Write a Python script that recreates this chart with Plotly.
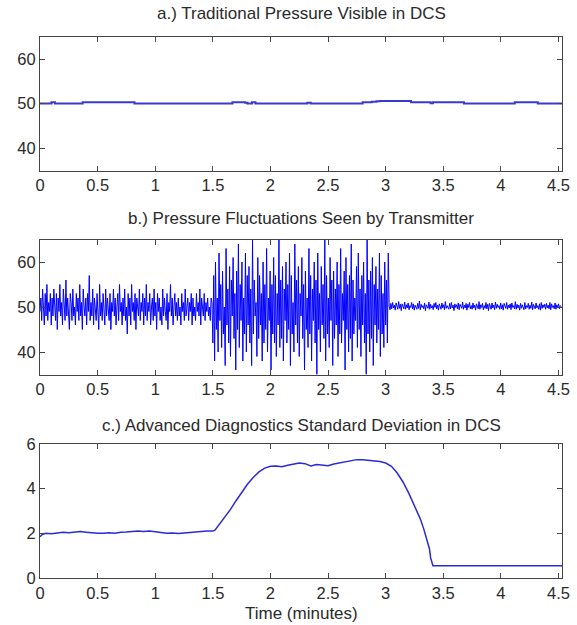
import numpy as np
import plotly.graph_objects as go

# ---------- data ----------
# a.) traditional pressure (DCS)
a_time = [0, 0.08, 0.1, 0.13, 0.35, 0.37, 0.8, 0.82, 1.65, 1.67, 1.78, 1.8, 1.84, 1.87, 1.9,
          2.3, 2.32, 2.35, 2.77, 2.8, 2.88, 2.92, 2.95, 3.2, 3.22, 3.37, 3.39, 3.41, 3.65, 3.68,
          4.1, 4.12, 4.3, 4.32, 4.53]
a_pressure = [50.0, 50.0, 50.3, 50.0, 50.0, 50.3, 50.3, 50.0, 50.0, 50.3, 50.2, 50.0, 50.3, 50.0, 50.0,
              50.0, 50.2, 50.0, 50.0, 50.3, 50.4, 50.5, 50.6, 50.6, 50.3, 50.3, 50.1, 50.3, 50.3, 50.0,
              50.0, 50.3, 50.3, 50.0, 50.0]

# b.) transmitter fluctuations, three segments
b_seg_bounds = [(0.0, 1.5), (1.5, 3.03), (3.03, 4.53)]
b_seg1 = [49,52,47,54,50,46,53,48,55,47,51,49,53,46,52,48,54,50,47,53,
          45,52,49,55,48,51,46,54,50,47,56,48,52,49,45,53,51,47,54,48,
          50,46,53,49,52,47,55,48,51,45,54,50,48,52,46,53,49,57,47,51,
          48,54,46,52,50,47,53,49,45,55,48,51,47,53,50,46,54,48,52,49,
          47,53,45,51,49,54,48,52,46,50,53,47,55,49,51,46,52,48,54,47,
          50,44,53,48,52,46,55,49,51,47,53,45,52,50,48,54,47,51,49,53,
          46,52,48,55,47,51,49,53,46,50,52,47,54,48,51,45,53,49,52,47,
          50,46,54,48,52,49,47,53,45,51,49,55,48,52,46,50,53,48,51,47,
          52,48,50,46,53,49,51,47,54,48,50,52,47,51,49,53,46,52,48,50,
          47,53,49,51,48,54,46,52,50,48,53,47,51,49,52,48,50,47,52,51]
b_seg2 = [42,57,38,60,45,52,40,62,47,55,41,58,44,50,37,63,46,54,42,59,
          39,56,48,61,43,53,36,58,45,64,41,55,47,60,38,52,44,62,40,57,
          46,59,42,54,37,65,44,56,48,51,39,61,43,57,46,53,38,60,42,55,
          45,63,40,52,47,58,36,55,44,61,42,57,39,53,46,65,41,56,43,59,
          38,54,47,60,42,55,45,62,37,57,44,51,40,64,46,56,42,59,39,53,
          48,61,43,55,36,58,45,52,41,63,44,57,38,54,47,60,42,56,35,62,
          45,53,40,59,46,55,43,65,38,57,44,52,41,61,47,56,37,58,43,54,
          46,60,39,55,44,63,42,53,47,58,36,61,45,55,40,57,43,64,38,56,
          44,52,47,59,41,62,45,54,39,57,46,60,42,53,35,65,44,56,40,58,
          43,61,37,55,46,59,42,54,45,62,39,57,44,53,41,60,46,56,42,62]
b_seg3 = [50.2,49.4,50.8,49.6,51.0,49.8,50.4,49.3,50.9,50.1,49.5,51.2,49.7,50.6,49.2,50.7,50.0,49.6,51.1,49.5,
          50.5,49.8,50.9,49.4,50.3,49.9,51.0,49.6,50.7,49.3,50.4,50.0,49.5,50.8,49.7,51.3,49.4,50.6,49.9,50.3,
          49.6,50.9,49.2,50.5,50.0,49.7,51.1,49.5,50.6,49.8,50.3,49.4,50.8,49.9,51.0,49.6,50.4,49.3,50.7,50.1,
          49.5,50.9,49.8,50.5,49.4,51.2,49.7,50.3,50.0,49.5,50.8,49.6,51.0,49.8,50.4,49.2,50.7,49.9,50.5,49.6,
          50.9,49.4,50.6,50.0,49.7,51.1,49.5,50.4,49.8,50.8,49.3,50.6,49.9,51.0,49.6,50.3,49.5,50.9,49.8,50.4,
          49.3,50.7,50.1,49.6,51.2,49.5,50.5,49.9,50.8,49.4,50.3,49.7,51.0,49.6,50.6,49.2,50.8,50.0,49.5,50.9,
          49.8,50.4,49.4,51.1,49.7,50.6,49.9,50.3,49.5,50.9,49.6,50.5,49.3,50.8,50.0,49.7,51.0,49.5,50.4,49.8,
          50.7,49.4,50.9,49.9,50.3,49.6,51.2,49.5,50.6,49.8,50.4,49.3,50.8,49.7,50.5,50.0,49.4,51.0,49.6,50.3,
          49.9,50.8,49.5,50.4,49.7,51.1,49.4,50.6,50.0,49.6,50.9,49.8,50.3,49.5,50.7,49.3,51.0,49.7,50.5,49.9,
          50.6,49.5,50.8,49.8,50.4,49.6,51.0,49.4,50.7,49.9,50.3,49.6,50.9,49.5,50.5,49.8,50.7,49.6,50.3,50.1]

# c.) advanced diagnostics standard deviation
c_time = [0, 0.02, 0.05, 0.1, 0.15, 0.2, 0.25, 0.3, 0.35, 0.4, 0.45, 0.5, 0.55, 0.6, 0.65, 0.7,
          0.75, 0.8, 0.85, 0.9, 0.95, 1.0, 1.05, 1.1, 1.15, 1.2, 1.25, 1.3, 1.35, 1.4, 1.45, 1.48,
          1.5, 1.52, 1.55, 1.6, 1.65, 1.7, 1.75, 1.8, 1.85, 1.9, 1.95, 2.0, 2.05, 2.1, 2.15, 2.2,
          2.25, 2.3, 2.35, 2.4, 2.45, 2.5, 2.55, 2.6, 2.65, 2.7, 2.75, 2.8, 2.85, 2.9, 2.95, 3.0,
          3.05, 3.1, 3.15, 3.2, 3.25, 3.3, 3.33, 3.36, 3.38, 3.39, 3.41, 3.5, 4.53]
c_std = [1.85, 1.95, 2.0, 1.98, 2.02, 2.05, 2.03, 2.06, 2.08, 2.05, 2.02, 2.0, 2.0, 2.03, 2.0, 2.05,
         2.06, 2.08, 2.1, 2.08, 2.1, 2.07, 2.04, 2.0, 2.02, 1.99, 2.02, 2.05, 2.06, 2.08, 2.1, 2.12,
         2.1, 2.15, 2.35, 2.7, 3.05, 3.45, 3.85, 4.2, 4.5, 4.75, 4.92, 5.0, 5.02, 4.98, 5.05, 5.1,
         5.15, 5.12, 5.02, 5.08, 5.05, 5.03, 5.1, 5.15, 5.2, 5.28, 5.3, 5.3, 5.28, 5.25, 5.22, 5.15,
         5.0, 4.7, 4.3, 3.8, 3.25, 2.65, 2.2, 1.7, 1.3, 0.9, 0.55, 0.55, 0.55]

titles = ["a.) Traditional Pressure Visible in DCS",
          "b.) Pressure Fluctuations Seen by Transmitter",
          "c.) Advanced Diagnostics Standard Deviation in DCS"]
x_label = "Time (minutes)"
x_tickvals = [0, 0.5, 1, 1.5, 2, 2.5, 3, 3.5, 4, 4.5]
x_ticktext = ["0", "0.5", "1", "1.5", "2", "2.5", "3", "3.5", "4", "4.5"]

# ---------- build ----------
b_time, b_pressure = [], []
for (t0, t1), seg in zip(b_seg_bounds, [b_seg1, b_seg2, b_seg3]):
    b_time.extend(np.linspace(t0, t1, len(seg), endpoint=False).tolist())
    b_pressure.extend(seg)

W, H = 577, 625
FONT = "Liberation Sans, Arial, sans-serif"
TXT = "#2a2a2a"
AX = "#444444"

fig = go.Figure()
fig.add_trace(go.Scatter(x=a_time, y=a_pressure, mode="lines", line=dict(color="#3a3ad0", width=2),
                         line_shape="hv", xaxis="x", yaxis="y", showlegend=False))
fig.add_trace(go.Scatter(x=b_time, y=b_pressure, mode="lines", line=dict(color="#0000ff", width=1),
                         xaxis="x2", yaxis="y2", showlegend=False))
fig.add_trace(go.Scatter(x=c_time, y=c_std, mode="lines", line=dict(color="#2a2ad8", width=1.5),
                         xaxis="x3", yaxis="y3", showlegend=False))

def px_to_paper(py):
    return 1 - py / H

domains = [(170.5, 36.7), (374.5, 239.5), (578, 444)]
yranges = [[35, 65], [35, 65], [0, 6]]
ytickvals = [[40, 50, 60], [40, 50, 60], [0, 2, 4, 6]]

L, R = 40, 577 - 562
common_x = dict(range=[0, 4.53], tickvals=x_tickvals, ticktext=x_ticktext,
                ticks="inside", ticklen=5, tickcolor=AX, showline=True, linecolor=AX, linewidth=1,
                mirror="ticks", showgrid=False, zeroline=False, automargin=False,
                tickfont=dict(family=FONT, size=16.5, color=TXT), domain=[0, 1])
layout = dict(width=W, height=H, margin=dict(l=L, r=R, t=0, b=0, autoexpand=False),
              paper_bgcolor="white", plot_bgcolor="white", showlegend=False)

for i in range(3):
    xs = "xaxis" if i == 0 else f"xaxis{i+1}"
    ys = "yaxis" if i == 0 else f"yaxis{i+1}"
    xa = dict(common_x)
    xa["anchor"] = "y" if i == 0 else f"y{i+1}"
    layout[xs] = xa
    layout[ys] = dict(range=yranges[i], tickvals=ytickvals[i], ticks="inside", ticklen=5, tickcolor=AX,
                      showline=True, linecolor=AX, linewidth=1, mirror="ticks", showgrid=False,
                      zeroline=False, automargin=False, tickfont=dict(family=FONT, size=16.5, color=TXT),
                      domain=[px_to_paper(domains[i][0]), px_to_paper(domains[i][1])],
                      anchor="x" if i == 0 else f"x{i+1}")

fig.update_layout(**layout)

plot_cx = 0.5
title_y = [14, 218, 425]
for t, ty in zip(titles, title_y):
    fig.add_annotation(text=t, xref="paper", yref="paper", x=plot_cx, y=px_to_paper(ty),
                       xanchor="center", yanchor="middle", showarrow=False,
                       font=dict(family=FONT, size=17, color=TXT))
fig.add_annotation(text=x_label, xref="paper", yref="paper", x=plot_cx, y=px_to_paper(613),
                   xanchor="center", yanchor="middle", showarrow=False,
                   font=dict(family=FONT, size=17, color=TXT))

fig.write_html("out.html", config={"displayModeBar": False},
               post_script="document.body.style.margin='0';document.body.style.overflow='hidden';")
